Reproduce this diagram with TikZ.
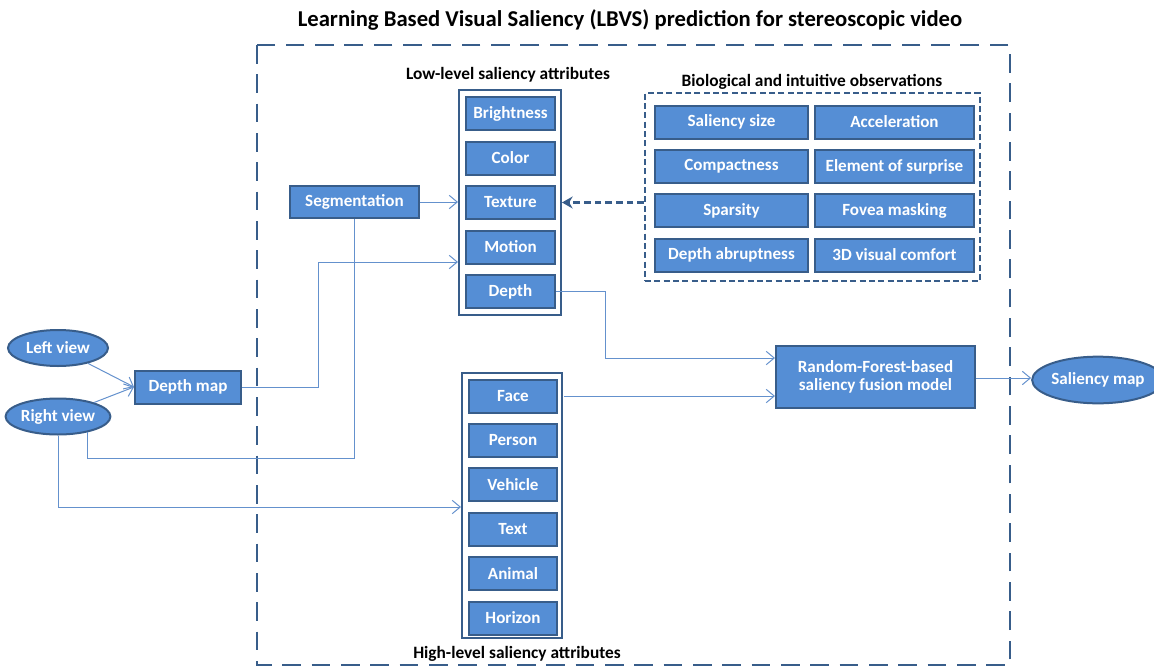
\documentclass[tikz,border=0pt]{standalone}
\usepackage{fontspec}
\setmainfont{Carlito}
\usetikzlibrary{arrows.meta,shapes.geometric}

\definecolor{boxfill}{RGB}{85,142,213}
\definecolor{boxline}{RGB}{56,93,138}
\definecolor{connline}{RGB}{100,145,205}

\tikzset{
  attr/.style={draw=boxline, line width=1.5pt, fill=boxfill, text=white,
    font=\bfseries\fontsize{12.8}{14}\selectfont, inner sep=1pt},
  lowattr/.style={attr, minimum width=66.75pt, minimum height=24.75pt},
  highattr/.style={attr, minimum width=66pt, minimum height=24.75pt},
  obsattr/.style={attr, minimum height=24.75pt},
  view/.style={attr, ellipse, inner sep=0pt},
  holder/.style={draw=boxline, line width=1.5pt, fill=white},
  caption/.style={font=\bfseries\fontsize{13}{15}\selectfont},
  conn/.style={draw=connline, line width=0.75pt},
  connarrow/.style={conn, -{Straight Barb[length=6pt,width=10pt]}},
}

\begin{document}
\begin{tikzpicture}[x=0.75pt,y=0.75pt,yscale=-1,xscale=1]
\useasboundingbox (0,0) rectangle (1154,668);

% Title
\node (title) at (630,20) {\bfseries\fontsize{17}{20}\selectfont Learning Based Visual Saliency (LBVS) prediction for stereoscopic video};

% Outer frame
\draw [boxline, line width=2.2pt, dash pattern=on 14pt off 8pt] (257,45) rectangle (1010,665);

% Low-level attributes
\node [caption] (lowcap) at (508,75) {Low-level saliency attributes};
\node [holder, minimum width=76.5pt, minimum height=168.75pt] (lowbox) at (510,202.5) {};
\node [lowattr] (bright) at (510.5,113.5) {Brightness};
\node [lowattr] (color) at (510.5,158) {Color};
\node [lowattr] (texture) at (510.5,202.5) {Texture};
\node [lowattr] (motion) at (510.5,247) {Motion};
\node [lowattr] (depth) at (510.5,291.5) {Depth};

% Biological observations
\node [caption] (biocap) at (812,82) {Biological and intuitive observations};
\node [draw=boxline, line width=1.5pt, dash pattern=on 4.5pt off 2.5pt, minimum width=251.25pt, minimum height=141pt] (bio) at (812.5,187) {};
\node [obsattr, minimum width=114.75pt] (size) at (731.5,122) {Saliency size};
\node [obsattr, minimum width=119.25pt] (accel) at (894.5,122) {Acceleration};
\node [obsattr, minimum width=114.75pt] (compact) at (731.5,166.5) {Compactness};
\node [obsattr, minimum width=119.25pt] (surprise) at (894.5,166.5) {Element of surprise};
\node [obsattr, minimum width=114.75pt] (sparse) at (731.5,210.5) {Sparsity};
\node [obsattr, minimum width=119.25pt] (fovea) at (894.5,210.5) {Fovea masking};
\node [obsattr, minimum width=114.75pt] (abrupt) at (731.5,255) {Depth abruptness};
\node [obsattr, minimum width=119.25pt] (comfort) at (894.5,255) {3D visual comfort};

% High-level attributes
\node [holder, minimum width=75pt, minimum height=198.75pt] (highbox) at (512,505.5) {};
\node [highattr] (face) at (513,396) {Face};
\node [highattr] (person) at (513,440) {Person};
\node [highattr] (vehicle) at (513,484.5) {Vehicle};
\node [highattr] (text) at (513,529) {Text};
\node [highattr] (animal) at (513,573.5) {Animal};
\node [highattr] (horizon) at (513,618) {Horizon};
\node [caption] (highcap) at (517,654) {High-level saliency attributes};

% Inputs and pre-processing
\node [view, minimum width=75pt, minimum height=27pt] (left) at (58,348) {Left view};
\node [view, minimum width=75pt, minimum height=27pt] (right) at (58,416.5) {Right view};
\node [attr, minimum width=79.5pt, minimum height=24.75pt] (dmap) at (188,387) {Depth map};
\node [attr, minimum width=96.75pt, minimum height=24pt] (seg) at (354.5,202) {Segmentation};

% Fusion and output
\node [attr, align=center, minimum width=149.25pt, minimum height=46.5pt] (forest) at (875.5,377) {Random-Forest-based\\saliency fusion model};
\node [view, minimum width=87pt, minimum height=35pt] (smap) at (1098,380) {Saliency map};

% Connectors
\draw [connarrow] (left) -- (dmap.west);
\draw [connarrow] (right) -- (dmap.west);
\draw [connarrow] (dmap.east) -- (318,387) |- (lowbox.west |- 0,262);
\draw [connarrow] (seg.east) -- (lowbox.west |- seg.east);
\draw [conn] (right.south east |- 0,432) ++(-8,0) -- ++(0,26) -| (seg.south);
\draw [connarrow] (right.south) |- (highbox.west |- 0,507);
\draw [connarrow] (depth.east) -- (605,291.5) |- (forest.west |- 0,358);
\draw [connarrow] (face.east) ++(6,0) -- (forest.west |- face.east);
\draw [connarrow] (forest.east |- 0,378) -- (smap.west |- 0,378);
\draw [boxline, line width=2pt, dash pattern=on 5pt off 3pt, -{Stealth[length=8pt,width=9pt]}] (bio.west |- texture) -- (lowbox.east |- texture);

\end{tikzpicture}
\end{document}
